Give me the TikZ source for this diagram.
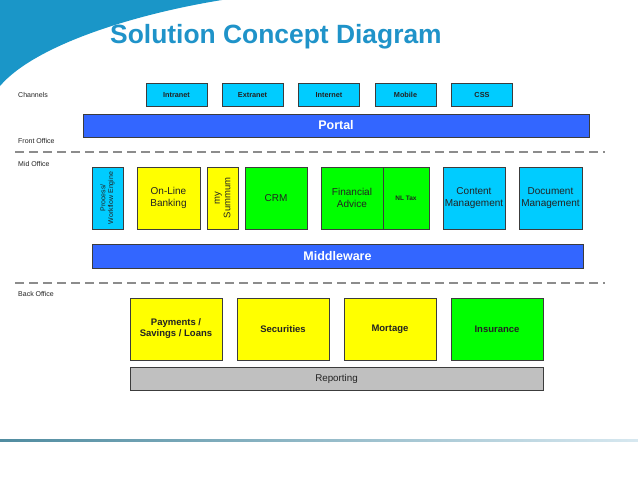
\documentclass[tikz,border=0pt]{standalone}
\usepackage{fontspec}
\setmainfont{Liberation Sans}
\definecolor{swoosh}{RGB}{26,150,200}
\definecolor{titleblue}{RGB}{31,147,201}
\definecolor{cyanfill}{RGB}{0,204,255}
\definecolor{yellowfill}{RGB}{255,255,0}
\definecolor{greenfill}{RGB}{0,255,0}
\definecolor{bluebar}{RGB}{51,102,255}
\definecolor{grayfill}{RGB}{192,192,192}
\definecolor{edge}{RGB}{60,60,60}
\definecolor{boxtext}{RGB}{35,35,35}
\definecolor{ruleleft}{RGB}{80,140,160}
\definecolor{ruleright}{RGB}{215,232,240}
\begin{document}
\begin{tikzpicture}[x=1pt,y=-1pt,
  box/.style={draw=edge, line width=0.8pt, inner sep=0pt, align=center, text=boxtext,
    font=\fontsize{10}{11.5}\selectfont},
  chanbox/.style={box, fill=cyanfill, minimum width=61pt, minimum height=23pt,
    font=\fontsize{7.3}{8.5}\selectfont\bfseries},
  cyanbox/.style={box, fill=cyanfill},
  yellowbox/.style={box, fill=yellowfill},
  greenbox/.style={box, fill=greenfill},
  bar/.style={box, fill=bluebar, text=white, font=\fontsize{12.5}{14}\selectfont\bfseries},
  backbox/.style={box, minimum width=92pt, minimum height=62pt, font=\fontsize{9.5}{11}\selectfont\bfseries},
  lbl/.style={anchor=west, inner sep=0pt, text=boxtext, font=\fontsize{7}{8}\selectfont},
  sep/.style={draw=black!45, line width=1.1pt, dash pattern=on 9pt off 5pt}
]
\useasboundingbox (0,0) rectangle (638,479);
\fill[white] (0,0) rectangle (638,479);
% swoosh
\fill[swoosh] (0,0) -- (222,0) .. controls (135,14) and (35,45) .. (0,86) -- cycle;
% title
\node[anchor=base west, inner sep=0pt, text=titleblue, font=\fontsize{26.4}{29}\selectfont\bfseries] (title) at (110,43) {Solution Concept Diagram};
% left labels
\node[lbl] (lchan) at (18,95) {Channels};
\node[lbl] (lfront) at (18,141) {Front Office};
\node[lbl] (lmid) at (18,164) {Mid Office};
\node[lbl] (lback) at (18,294) {Back Office};
% separators
\coordinate (s1a) at (15,152);
\coordinate (s1b) at (605,152);
\coordinate (s2a) at (15,283);
\coordinate (s2b) at (605,283);
\draw[sep] (s1a) -- (s1b);
\draw[sep] (s2a) -- (s2b);
% channels
\node[chanbox] (intranet) at (176.5,95) {Intranet};
\node[chanbox] (extranet) at (252.5,95) {Extranet};
\node[chanbox] (internet) at (329,95) {Internet};
\node[chanbox] (mobile) at (405.5,95) {Mobile};
\node[chanbox] (css) at (482,95) {CSS};
% portal
\node[bar, minimum width=506pt, minimum height=23pt] (portal) at (336,125.5) {Portal};
% mid office
\node[cyanbox, minimum width=31pt, minimum height=62pt] (pwe) at (107.5,198) {};
\node[rotate=90, inner sep=0pt, align=center, text=boxtext, font=\fontsize{7}{7.8}\selectfont] (pwet) at (pwe.center) {Process/\\Workflow Engine};
\node[yellowbox, minimum width=63pt, minimum height=62pt] (olb) at (168.5,198) {On-Line\\Banking};
\node[yellowbox, minimum width=31pt, minimum height=62pt] (mys) at (222.5,198) {};
\node[rotate=90, inner sep=0pt, align=center, text=boxtext, font=\fontsize{9.5}{10.5}\selectfont] (myst) at (mys.center) {my\\Summum};
\node[greenbox, minimum width=62pt, minimum height=62pt] (crm) at (276,198) {CRM};
\node[greenbox, minimum width=62pt, minimum height=62pt] (fa) at (352,198) {Financial\\Advice};
\node[greenbox, minimum width=46pt, minimum height=62pt, font=\fontsize{6.5}{7.5}\selectfont\bfseries] (nltax) at (406,198) {NL Tax};
\node[cyanbox, minimum width=62pt, minimum height=62pt] (cm) at (474,198) {Content\\Management};
\node[cyanbox, minimum width=63pt, minimum height=62pt] (dm) at (550.5,198) {Document\\Management};
% middleware
\node[bar, minimum width=491pt, minimum height=24pt] (mw) at (337.5,256) {Middleware};
% back office
\node[backbox, fill=yellowfill] (pay) at (176,329) {Payments /\\Savings / Loans};
\node[backbox, fill=yellowfill] (sec) at (283,329) {Securities};
\node[backbox, fill=yellowfill] (mor) at (390,329) {Mortage};
\node[backbox, fill=greenfill] (ins) at (497,329) {Insurance};
\node[box, fill=grayfill, minimum width=413pt, minimum height=23pt, font=\fontsize{9.8}{11}\selectfont] (rep) at (336.5,378.5) {Reporting};
% bottom rule
\shade[left color=ruleleft, right color=ruleright] (0,439) rectangle (638,441.2);
\end{tikzpicture}
\end{document}
